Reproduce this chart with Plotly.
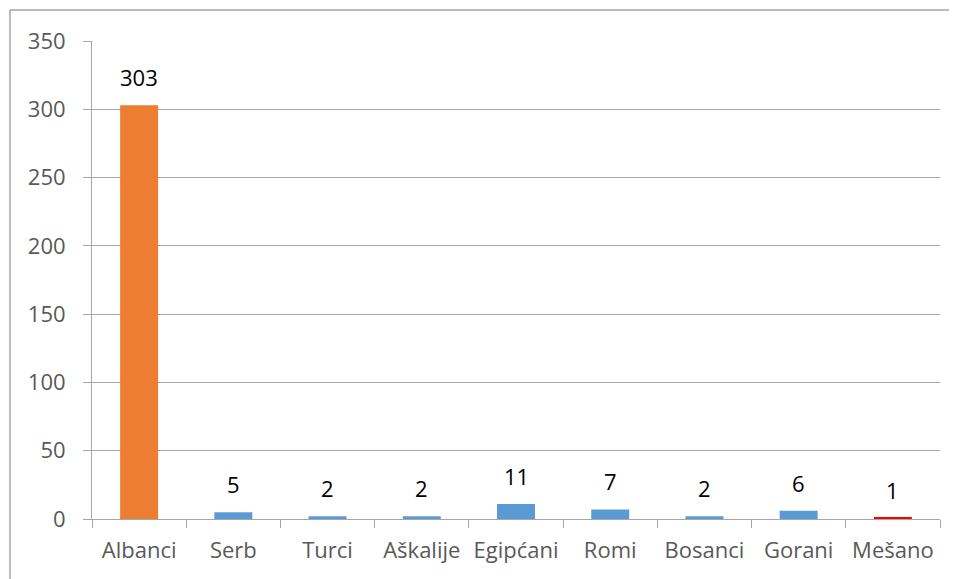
import plotly.graph_objects as go

categories = ["Albanci", "Serb", "Turci", "Aškalije", "Egipćani", "Romi", "Bosanci", "Gorani", "Mešano"]
values = [303, 5, 2, 2, 11, 7, 2, 6, 1]
bar_colors = ["#ED7D31", "#5B9BD5", "#5B9BD5", "#5B9BD5", "#5B9BD5", "#5B9BD5", "#5B9BD5", "#5B9BD5", "#FF0000"]
y_ticks = [0, 50, 100, 150, 200, 250, 300, 350]

# page has an 8px body margin, so the figure is sized to fit the window
W, H = 949, 571
ml, mr, mt, mb = 84, 17, 33, 60
pw, ph = W - ml - mr, H - mt - mb

FONT = "'Open Sans', Lato, sans-serif"
FS = 22
GRID = "#A6A6A6"

fig = go.Figure(go.Bar(
    x=categories, y=values, marker=dict(color=bar_colors, line=dict(width=0)),
    hoverinfo="x+y",
))

for c, v in zip(categories, values):
    fig.add_annotation(x=c, y=v, text=str(v), showarrow=False, yanchor="bottom",
                       yshift=11, font=dict(family=FONT, size=FS, color="#000000"))

# outer chart border (top and left visible)
x0 = (2 - ml) / pw
y0 = 1 + (mt - 2) / ph
fig.add_shape(type="line", xref="paper", yref="paper", x0=x0, x1=1 + (mr + 10) / pw, y0=y0, y1=y0,
              line=dict(color="#A6A6A6", width=1.5))
fig.add_shape(type="line", xref="paper", yref="paper", x0=x0, x1=x0, y0=y0, y1=-mb / ph,
              line=dict(color="#A6A6A6", width=1.5))

fig.update_layout(
    width=W, height=H,
    margin=dict(l=ml, r=mr, t=mt, b=mb),
    paper_bgcolor="white", plot_bgcolor="white",
    bargap=0.597,
    showlegend=False,
    font=dict(family=FONT, size=FS, color="#595959"),
    xaxis=dict(
        type="category", tickson="boundaries", ticks="outside", ticklen=8,
        tickcolor=GRID, showline=True, linecolor=GRID, linewidth=1,
        showgrid=False, ticklabelstandoff=12, tickfont=dict(size=FS, color="#595959"),
        automargin=False,
    ),
    yaxis=dict(
        range=[0, 350], tickvals=y_ticks, ticks="outside", ticklen=8, tickcolor=GRID,
        showgrid=True, gridcolor=GRID, gridwidth=1, showline=True, linecolor=GRID,
        zeroline=False, ticklabelstandoff=13, tickfont=dict(size=FS, color="#595959"),
        automargin=False,
    ),
)

fig.write_html("out.html", config={"displayModeBar": False},
               post_script="document.body.style.overflow='hidden';")
